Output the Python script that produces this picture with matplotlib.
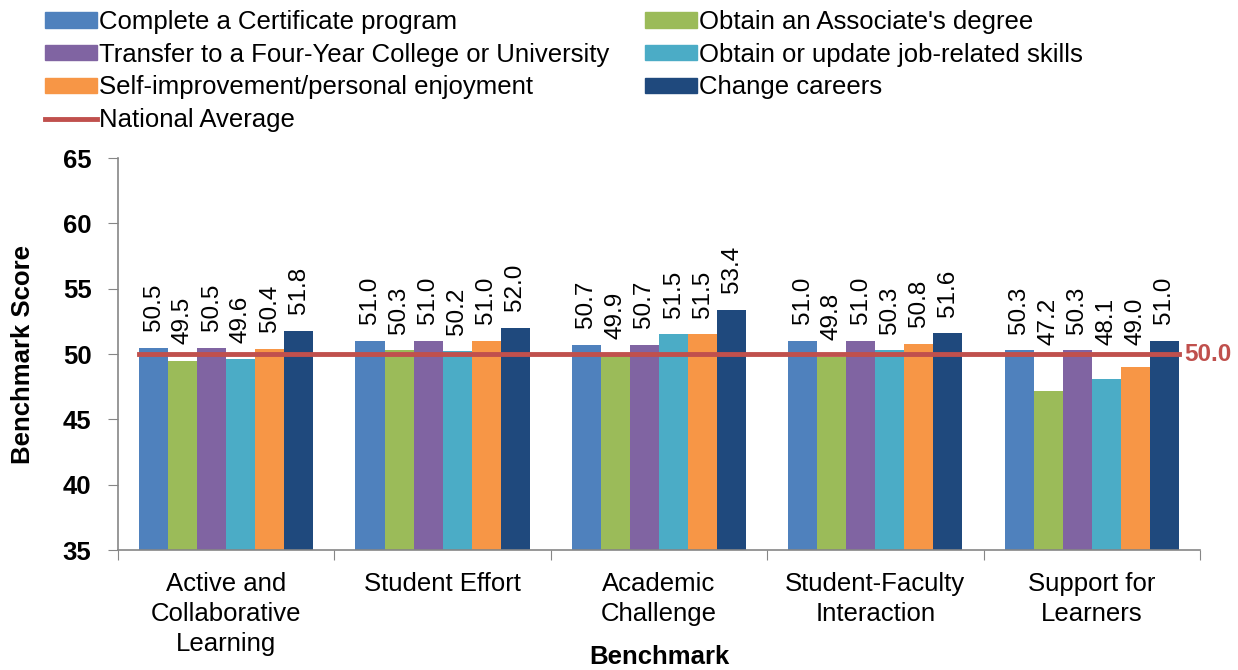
import matplotlib.pyplot as plt
import numpy as np
from matplotlib.patches import Patch
from matplotlib.lines import Line2D

plt.rcParams['font.family'] = ['Liberation Sans', 'DejaVu Sans']

categories = ['Active and\nCollaborative\nLearning', 'Student Effort', 'Academic\nChallenge',
              'Student-Faculty\nInteraction', 'Support for\nLearners']
series_names = ['Complete a Certificate program', "Obtain an Associate's degree",
                'Transfer to a Four-Year College or University', 'Obtain or update job-related skills',
                'Self-improvement/personal enjoyment', 'Change careers']
certificate = [50.5, 51.0, 50.7, 51.0, 50.3]
associate = [49.5, 50.3, 49.9, 49.8, 47.2]
transfer = [50.5, 51.0, 50.7, 51.0, 50.3]
job_skills = [49.6, 50.2, 51.5, 50.3, 48.1]
self_improve = [50.4, 51.0, 51.5, 50.8, 49.0]
change_careers = [51.8, 52.0, 53.4, 51.6, 51.0]
national_avg = 50.0

colors = ['#4F81BD', '#9BBB59', '#8064A2', '#4BACC6', '#F79646', '#1F497D']
red = '#C0504D'
gray = '#868686'

all_series = [certificate, associate, transfer, job_skills, self_improve, change_careers]

fig = plt.figure(figsize=(12.38, 6.7), dpi=100)
ax = fig.add_axes([0.0953, 0.179, 0.874, 0.585])

x = np.arange(len(categories))
group_w = 0.805
bw = group_w / len(all_series)
for i, vals in enumerate(all_series):
    pos = x - group_w / 2 + bw * (i + 0.5)
    ax.bar(pos, vals, width=bw, bottom=0, color=colors[i], zorder=2)
    for p, v in zip(pos, vals):
        ax.annotate('%.1f' % v, (p, max(v, 49.4)), xytext=(0, 12), textcoords='offset points',
                    rotation=90, ha='center', va='bottom', fontsize=17.5)

x0 = x[0] - group_w / 2
x1 = x[-1] + group_w / 2
ax.plot([x0, x1], [national_avg, national_avg], color=red, linewidth=3.5, zorder=3)
ax.annotate('%.1f' % national_avg, (x1, national_avg), xytext=(4, 0), textcoords='offset points',
            ha='left', va='center', fontsize=17.5, fontweight='bold', color=red)

ax.set_ylim(35, 65)
ax.set_xlim(-0.5, len(categories) - 0.5)
ax.set_yticks(np.arange(35, 66, 5))
ax.set_yticklabels([str(v) for v in range(35, 66, 5)], fontsize=18.5, fontweight='bold')
ax.set_xticks(np.arange(-0.5, len(categories), 1))
ax.set_xticklabels([])
ax.set_xticks(x, minor=True)
ax.set_xticklabels(categories, minor=True, fontsize=18.5, linespacing=1.3)
ax.tick_params(axis='x', which='major', length=7, color=gray)
ax.tick_params(axis='x', which='minor', length=0, pad=16)
ax.tick_params(axis='y', length=7, color=gray, pad=12)
for s in ['top', 'right']:
    ax.spines[s].set_visible(False)
for s in ['left', 'bottom']:
    ax.spines[s].set_color(gray)
    ax.spines[s].set_linewidth(1.2)
ax.set_ylabel('Benchmark Score', fontsize=18.5, fontweight='bold', labelpad=20)
ax.set_xlabel('Benchmark', fontsize=18.5, fontweight='bold', va='center')
ax.xaxis.set_label_coords(0.5, -0.274)

handles = [Patch(color=c) for c in colors]
line_h = Line2D([0], [0], color=red, linewidth=3.5)
order = [0, 2, 4, 'n', 1, 3, 5]
hs, ls = [], []
for o in order:
    if o == 'n':
        hs.append(line_h)
        ls.append('National Average')
    else:
        hs.append(handles[o])
        ls.append(series_names[o])
fig.legend(hs, ls, ncol=2, loc='upper left', bbox_to_anchor=(0.022, 1.012), frameon=False,
           fontsize=18.5, handlelength=2.0, handleheight=0.55, handletextpad=0.1,
           labelspacing=0.34, columnspacing=1.4, borderaxespad=0.3)

fig.savefig('out.png', dpi=100)
